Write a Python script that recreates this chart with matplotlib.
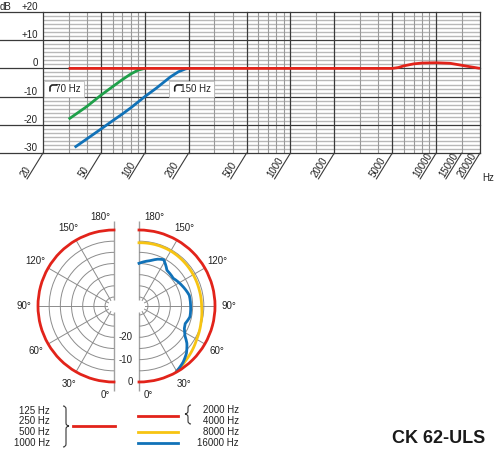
import numpy as np
import matplotlib
matplotlib.use('Agg')
import matplotlib.pyplot as plt
import matplotlib.transforms as mtransforms
from matplotlib.path import Path
from matplotlib.patches import PathPatch
from matplotlib.lines import Line2D
from matplotlib.ticker import NullLocator

plt.rcParams['font.family'] = ['Liberation Sans', 'DejaVu Sans']

# ---------------- data: frequency response ----------------
freq_labels = [20, 50, 100, 200, 500, 1000, 2000, 5000, 10000, 15000, 20000]
freq_major = [20, 50, 100, 200, 500, 1000, 2000, 5000, 10000, 20000]
freq_minor = [30, 40, 60, 70, 80, 90, 300, 400, 600, 700, 800, 900, 1500,
              3000, 4000, 6000, 7000, 8000, 9000, 15000]
db_major = [-30, -20, -10, 0, 10]
db_major_labels = ['-30', '-20', '-10', '0', '+10']

flat_freq = [30, 100, 1000, 5000, 5500, 6000, 7000, 8000, 10000, 12500, 15000, 17500, 20000]
flat_db = [0, 0, 0, 0, 0.3, 0.9, 1.6, 1.9, 2.0, 1.8, 1.1, 0.5, 0.0]
lc70_freq = [30, 40, 50, 60, 70, 80, 90, 100]
lc70_db = [-18, -13.5, -9.5, -6.5, -4, -2, -0.6, 0]
lc150_freq = [33, 40, 50, 60, 70, 80, 100, 120, 150, 170, 190, 200]
lc150_db = [-28, -25, -21.5, -18.6, -16.2, -14, -10, -7, -3, -1.2, -0.2, 0]
filter_labels = ['70 Hz', '150 Hz']
filter_box_freq = [21.3, 153]

# ---------------- data: polar (angle in degrees, 0 = bottom) ----------------
pol_low_ang = [0, 30, 60, 90, 120, 150, 180]
pol_low_db = [0, 0, 0, 0, 0, 0, 0]
pol_mid_ang = [0, 30, 60, 90, 120, 150, 180]
pol_mid_db = [0, 0, 0, 0, 0, 0, 0]
pol_8k_ang = [30, 40, 50, 60, 75, 90, 105, 120, 135, 150, 165, 180]
pol_8k_db = [-0.3, -1.8, -3.0, -4.2, -5.3, -6.0, -6.1, -6.0, -5.8, -5.6, -5.6, -5.7]
pol_16k_ang = [30, 38, 45, 52, 57, 63, 69, 78, 90, 102, 113, 129, 142, 152, 158, 166, 180]
pol_16k_db = [-0.3, -2, -4, -6.8, -9.5, -11.3, -11.9, -10.7, -10.9, -11, -12.4, -14.3,
              -13.7, -10.5, -11.4, -13.1, -14.9]
angle_labels = [0, 30, 60, 90, 120, 150, 180]
spoke_angles = [30, 60, 90, 120, 150]
ring_db = [-30, -25, -20, -15, -10, -5]
scale_labels = [-20, -10, 0]

legend_left = ['125 Hz', '250 Hz', '500 Hz', '1000 Hz']
legend_right = ['2000 Hz', '4000 Hz', '8000 Hz', '16000 Hz']

RED = '#e2231a'
GREEN = '#1fa04a'
BLUE = '#1172b8'
YELLOW = '#f7c412'
DARK = '#3a3a3a'
TXT = '#222222'

W, H = 500, 454
fig = plt.figure(figsize=(W / 100, H / 100), dpi=100)


def fx(px):
    return px / W


def fy(py):
    return 1 - py / H


# ---------------- top: frequency response ----------------
ax = fig.add_axes([fx(43), fy(153), fx(480) - fx(43), fy(12) - fy(153)])
ax.set_xscale('log')
ax.set_xlim(20, 20000)
ax.set_ylim(-30, 20)
ax.set_xticks([])
ax.set_yticks([])
ax.xaxis.set_minor_locator(NullLocator())
for s in ax.spines.values():
    s.set_visible(False)

minor_db = [v for v in np.linspace(-30, 20, 36)
            if min(abs(v - m) for m in db_major + [20]) > 1e-6]
for v in minor_db:
    ax.axhline(v, color='#b8b8b8', lw=1.0, zorder=1)
for f in freq_minor:
    ax.axvline(f, color='#9a9a9a', lw=0.8, zorder=1)
for f in freq_major:
    ax.axvline(f, color=DARK, lw=0.9, zorder=2, clip_on=False)
ext = -43 / 437
for v in db_major + [20]:
    ax.axhline(v, xmin=ext, xmax=1, color=DARK, lw=0.9, zorder=2, clip_on=False)

ytr = ax.get_yaxis_transform()
for v, lab in zip(db_major, db_major_labels):
    ax.text(-5 / 437, v, lab, transform=ytr, ha='right', va='bottom',
            fontsize=7, color=TXT)
ax.text(-5 / 437, 20, '+20', transform=ytr, ha='right', va='bottom', fontsize=7, color=TXT)
ax.text(ext, 20, 'dB', transform=ytr, ha='left', va='bottom', fontsize=7, color=TXT)

xtr = ax.get_xaxis_transform()
for f in freq_labels:
    ax.annotate('', xy=(f, 0), xycoords=xtr, xytext=(-16, -26), textcoords='offset pixels',
                arrowprops=dict(arrowstyle='-', color=DARK, lw=0.8, shrinkA=0, shrinkB=0))
    ax.annotate(str(f), xy=(f, 0), xycoords=xtr, xytext=(-16, -26), textcoords='offset pixels',
                rotation=58, rotation_mode='anchor', ha='left', va='bottom',
                fontsize=7, color=TXT)
fig.text(fx(482), fy(178), 'Hz', ha='left', va='center', fontsize=7, color=TXT)

ax.plot(lc70_freq, lc70_db, color=GREEN, lw=2.0, zorder=4, solid_capstyle='butt')
ax.plot(lc150_freq, lc150_db, color=BLUE, lw=2.0, zorder=4, solid_capstyle='butt')
ax.plot(flat_freq, flat_db, color=RED, lw=2.0, zorder=5, solid_capstyle='butt')

for f, lab in zip(filter_box_freq, filter_labels):
    ax.text(f, -7.3, '   ' + lab, ha='left', va='center', fontsize=7, color=TXT, zorder=6,
            bbox=dict(boxstyle='square,pad=0.3', fc='white', ec='#bbbbbb', lw=0.6))
    ax.annotate('', xy=(f, -7.3), xycoords=mtransforms.offset_copy(
                    ax.transData, fig=fig, x=10, y=4, units='dots'),
                xytext=(-7, -6), textcoords='offset pixels', zorder=7,
                arrowprops=dict(arrowstyle='-', color='#222222', lw=1.2, shrinkA=0, shrinkB=0,
                                connectionstyle='angle,angleA=90,angleB=0,rad=3'))

# ---------------- bottom: polar patterns ----------------
R = 76
cy = 306


def to_theta(ang, side):
    ang = np.asarray(ang, dtype=float)
    if side == 'right':
        return np.radians(ang - 90)
    return np.radians(270 - ang)


def polar_line(pa, side, ang, db, **kw):
    line, = pa.plot(to_theta(ang, side), db, **kw)
    line.get_path()._interpolation_steps = 60
    return line


def half_polar(cx_axis, side):
    # the wedge is centred inside a square box of side 2R
    if side == 'right':
        left = cx_axis - R / 2
    else:
        left = cx_axis - 1.5 * R
    rect = [fx(left), fy(cy + R), 2 * R / W, 2 * R / H]
    pa = fig.add_axes(rect, projection='polar')
    if side == 'right':
        pa.set_thetamin(-90)
        pa.set_thetamax(90)
    else:
        pa.set_thetamin(90)
        pa.set_thetamax(270)
    pa.set_rorigin(-34)
    pa.set_ylim(-31.3, 0)
    pa.set_xticks(to_theta(spoke_angles, side))
    pa.set_yticks(ring_db)
    pa.set_xticklabels([])
    pa.set_yticklabels([])
    pa.tick_params(length=0)
    pa.grid(True, color='#8c8c8c', lw=0.7)
    # polar axes re-enable these spines at draw time, so make them transparent
    for name in ('polar', 'start', 'end', 'inner'):
        pa.spines[name].set_color('none')
        pa.spines[name].set_linewidth(0)
    pa.patch.set_visible(False)
    for a in (0, 180):
        th = to_theta([a, a], side)
        pa.plot(th, [-31.3, 4.2], color='#a0a0a0', lw=1.0, clip_on=False, zorder=1,
                solid_capstyle='butt')
    for a in angle_labels:
        th = float(to_theta(a, side))
        if a in (0, 180):
            pa.annotate(f'{a}°', xy=(th, 5.6), xytext=(-4 if side == 'left' else 5, 0),
                        textcoords='offset pixels', ha='right' if side == 'left' else 'left',
                        va='center', fontsize=7, color=TXT, annotation_clip=False)
        else:
            pa.text(th, 6.4, f'{a}°', ha='center', va='center', fontsize=7,
                    color=TXT, clip_on=False)
    return pa


pl = half_polar(114, 'left')
pr = half_polar(139, 'right')

polar_line(pl, 'left', pol_low_ang, pol_low_db, color=RED, lw=2.0, clip_on=False, zorder=5)
polar_line(pr, 'right', pol_8k_ang, pol_8k_db, color=YELLOW, lw=2.0, clip_on=False, zorder=4)
polar_line(pr, 'right', pol_16k_ang, pol_16k_db, color=BLUE, lw=2.0, clip_on=False, zorder=4)
polar_line(pr, 'right', pol_mid_ang, pol_mid_db, color=RED, lw=2.0, clip_on=False, zorder=5)

for v in scale_labels:
    pr.annotate(f'{v}', xy=(float(to_theta(0, 'right')), v), xytext=(-6, 0),
                textcoords='offset pixels', ha='right', va='center', fontsize=7, color=TXT,
                annotation_clip=False)

# ---------------- legend ----------------
left_y = [411, 421.5, 432, 443]
for lab, y in zip(legend_left, left_y):
    fig.text(fx(50), fy(y), lab, ha='right', va='center', fontsize=7, color=TXT)
right_y = [410, 421, 432, 443]
for lab, y in zip(legend_right, right_y):
    fig.text(fx(239), fy(y), lab, ha='right', va='center', fontsize=7, color=TXT)

fig.add_artist(Line2D([fx(73), fx(115)], [fy(426), fy(426)], color=RED, lw=2.0))
fig.add_artist(Line2D([fx(138), fx(178)], [fy(416), fy(416)], color=RED, lw=2.0))
fig.add_artist(Line2D([fx(138), fx(178)], [fy(432), fy(432)], color=YELLOW, lw=2.0))
fig.add_artist(Line2D([fx(138), fx(178)], [fy(443), fy(443)], color=BLUE, lw=2.0))


def brace(x_end, x_tip, y_top, y_bot, y_mid):
    xm = (x_end + x_tip) / 2
    q = 3
    pts = [(x_end, y_top), (xm, y_top), (xm, y_top + q), (xm, y_mid - q), (xm, y_mid),
           (x_tip, y_mid), (xm, y_mid), (xm, y_mid + q), (xm, y_bot - q), (xm, y_bot),
           (x_end, y_bot)]
    codes = [Path.MOVETO, Path.CURVE3, Path.CURVE3, Path.LINETO, Path.CURVE3, Path.CURVE3,
             Path.CURVE3, Path.CURVE3, Path.LINETO, Path.CURVE3, Path.CURVE3]
    verts = [(x, H - y) for x, y in pts]
    fig.add_artist(PathPatch(Path(verts, codes), fc='none', ec='#333333', lw=0.8,
                             transform=mtransforms.IdentityTransform()))


brace(63, 69, 406, 447, 426)
brace(191, 185, 405, 424, 414)

fig.text(fx(485), fy(443), 'CK 62-ULS', ha='right', va='baseline', fontsize=13,
         fontweight='bold', color='#1a1a1a')

fig.savefig('out.png', dpi=100)
